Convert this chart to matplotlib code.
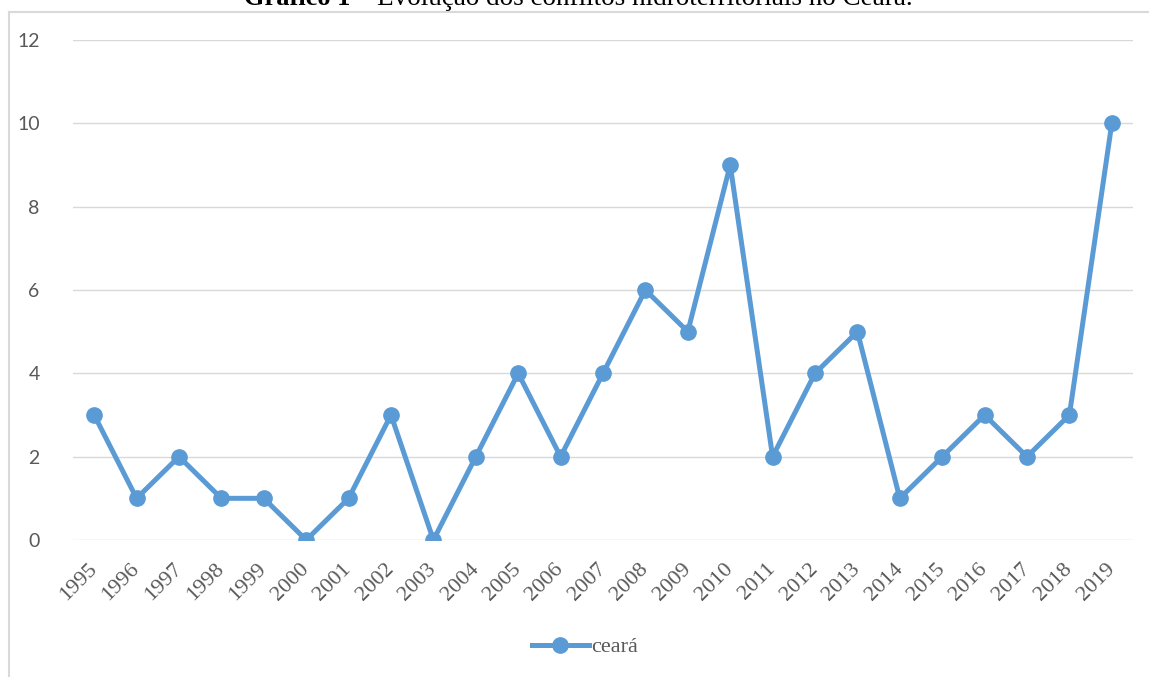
import matplotlib

matplotlib.use("Agg")
import matplotlib.pyplot as plt
from matplotlib.lines import Line2D

years = [str(y) for y in range(1995, 2020)]
conflitos = [3, 1, 2, 1, 1, 0, 1, 3, 0, 2, 4, 2, 4, 6, 5, 9, 2, 4, 5, 1, 2, 3, 2, 3, 10]
y_ticks = [0, 2, 4, 6, 8, 10, 12]

BLUE = "#5B9BD5"
GREY_TXT = "#595959"
GRID = "#D9D9D9"

fig = plt.figure(figsize=(11.49, 6.77), dpi=100)
ax = fig.add_axes([73 / 1149, 137 / 677, 1060 / 1149, 500 / 677])

x = list(range(len(years)))
ax.plot(x, conflitos, "-o", color=BLUE, lw=3.6, ms=11, label="ceará")

ax.tick_params(axis="both", length=0)
ax.tick_params(axis="y", pad=24)
ax.tick_params(axis="x", pad=19)

ax.set_xlim(-0.5, len(years) - 0.5)
ax.set_ylim(0, 12)
ax.set_yticks(y_ticks, [str(v) for v in y_ticks], fontfamily="Lato", fontsize=14,
              color=GREY_TXT)
ax.set_xticks(x, years, fontfamily="serif", fontsize=16, color=GREY_TXT, rotation=45,
              rotation_mode="anchor", ha="right", va="center")
plt.rcParams["font.serif"] = ["Liberation Serif", "DejaVu Serif"]

ax.grid(axis="y", color=GRID, lw=1)
ax.set_axisbelow(True)
for s in ax.spines.values():
    s.set_visible(False)

leg = fig.legend(loc="center", bbox_to_anchor=(585 / 1149, 1 - 647 / 677), frameon=False,
                 prop={"family": "Liberation Serif", "size": 16}, handlelength=2.6,
                 handletextpad=0.1)
for t in leg.get_texts():
    t.set_color(GREY_TXT)

# outer chart frame (only top and left edges visible in the crop)
fig.add_artist(Line2D([9 / 1149, 1], [1 - 12 / 677] * 2, color=GRID, lw=1.5))
fig.add_artist(Line2D([9 / 1149] * 2, [0, 1 - 12 / 677], color=GRID, lw=1.5))

# title, cut off at the top edge as in the source
split = 350 / 1149
ty = 1 - 5 / 677
fig.text(split, ty, "Gráfico 1", ha="right", va="baseline", fontfamily="Liberation Serif",
         fontsize=19, fontweight="bold", color="black")
fig.text(split, ty, " – Evolução dos conflitos hidroterritoriais no Ceará.", ha="left",
         va="baseline", fontfamily="Liberation Serif", fontsize=19.5, color="black")

fig.savefig("out.png", dpi=100)
